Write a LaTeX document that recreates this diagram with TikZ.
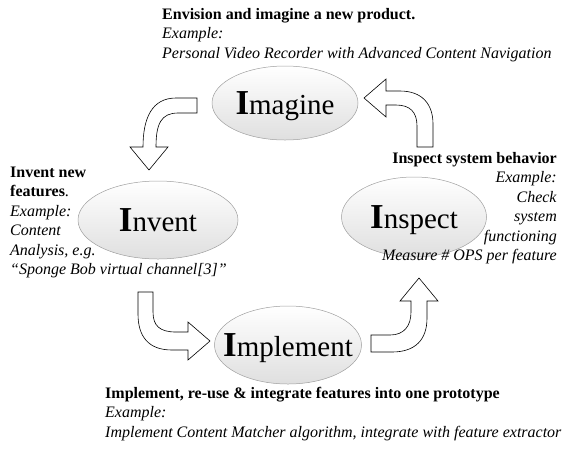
\documentclass[tikz,border=0pt]{standalone}
\usepackage{fontspec}
\setmainfont{Liberation Serif}
\usetikzlibrary{shapes.geometric}
\begin{document}
\begin{tikzpicture}[x=1pt,y=-1pt,
  note/.style={inner sep=0pt, font=\fontsize{16}{19.5}\selectfont, align=left, anchor=north west},
  noter/.style={inner sep=0pt, font=\fontsize{16}{19.5}\selectfont, align=right, anchor=north east},
  phase/.style={ellipse, draw=gray!75, line width=0.5pt, top color=white, bottom color=gray!25,
    inner sep=0pt, text depth=0pt, font=\fontsize{29}{34}\selectfont},
  barrow/.style={draw=black, fill=white, line width=0.6pt, line join=miter}]
\useasboundingbox (0,0) rectangle (569,451);
\newcommand{\bigI}{\textbf{\fontsize{35}{40}\selectfont I}}
\newcommand{\topline}{\rule{0pt}{14pt}}

% phase ellipses
\node[phase, minimum width=146pt, minimum height=74pt] (imagine) at (285,103) {\makebox[0pt]{\bigI magine}};
\node[phase, minimum width=160pt, minimum height=78pt] (invent) at (158,220) {\makebox[0pt]{\bigI nvent}};
\node[phase, minimum width=145pt, minimum height=80pt] (inspect) at (414,217) {\makebox[0pt]{\bigI nspect}};
\node[phase, minimum width=147pt, minimum height=78pt] (implement) at (288,345) {\makebox[0pt]{\bigI mplement}};

% block arrows
\draw[barrow] (197,98) -- (176,98) .. controls (152,98) and (143,118) .. (143,147)
  -- (130,147) -- (149,170) -- (168,147) -- (156,147)
  .. controls (156,124) and (161,113) .. (178,113) -- (197,113) -- cycle;
\draw[barrow] (138,292) -- (153,292) -- (153,312) .. controls (153,326) and (160,332) .. (176,332)
  -- (188,332) -- (188,322) -- (210,341) -- (188,360) -- (188,350) -- (172,350)
  .. controls (148,350) and (138,336) .. (138,314) -- cycle;
\draw[barrow] (371,335) -- (390,335) .. controls (404,335) and (411,326) .. (411,312)
  -- (411,301) -- (400,301) -- (419,278) -- (438,301) -- (427,301) -- (427,318)
  .. controls (427,340) and (415,352) .. (392,352) -- (371,352) -- cycle;
\draw[barrow] (417,147) -- (417,126) .. controls (417,112) and (410,105) .. (396,105)
  -- (386,105) -- (386,117) -- (364,98) -- (386,79) -- (386,91) -- (400,91)
  .. controls (422,91) and (433,104) .. (433,124) -- (433,147) -- cycle;

% notes
\node[note] (imaginetxt) at (162,5) {\topline\textbf{Envision and imagine a new product.}\\
  \textit{Example:}\\ \textit{Personal Video Recorder with Advanced Content Navigation}};
\node[note] (inventtxt) at (10,163) {\topline\textbf{Invent new}\\ \textbf{features}.\\
  \textit{Example:}\\ \textit{Content}\\ \textit{Analysis, e.g.}\\
  \textit{“Sponge Bob virtual channel[3]”}};
\node[noter] (inspecttxt) at (557,149) {\topline\textbf{Inspect system behavior}\\
  \textit{Example:}\\ \textit{Check}\hspace{4pt}\\ \textit{system}\hspace{4pt}\\
  \textit{functioning}\\ \textit{Measure \# OPS per feature}};
\node[note] (implementtxt) at (105,384) {\topline\textbf{Implement, re-use \& integrate features into one prototype}\\
  \textit{Example:}\\ \textit{Implement Content Matcher algorithm, integrate with feature extractor}};
\end{tikzpicture}
\end{document}
